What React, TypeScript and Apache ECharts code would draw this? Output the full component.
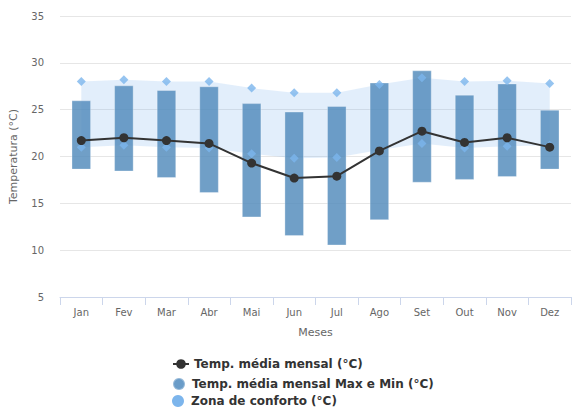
import React, { useEffect, useRef } from "react";
import * as echarts from "echarts";

const months = ["Jan", "Fev", "Mar", "Abr", "Mai", "Jun", "Jul", "Ago", "Set", "Out", "Nov", "Dez"];
const meanTemp = [21.7, 22.0, 21.7, 21.4, 19.3, 17.7, 17.9, 20.6, 22.7, 21.5, 22.0, 21.0];
const maxTemp = [26.0, 27.6, 27.1, 27.5, 25.7, 24.8, 25.4, 27.9, 29.2, 26.6, 27.8, 25.0];
const minTemp = [18.6, 18.4, 17.7, 16.1, 13.5, 11.5, 10.5, 13.2, 17.2, 17.5, 17.8, 18.6];
const comfortUpper = [28.0, 28.2, 28.0, 28.0, 27.3, 26.8, 26.8, 27.7, 28.4, 28.0, 28.1, 27.8];
const comfortLower = [21.0, 21.2, 21.0, 20.9, 20.3, 19.8, 19.9, 20.7, 21.4, 20.9, 21.1, 21.2];

const NAME_LINE = "Temp. média mensal (°C)";
const NAME_BAR = "Temp. média mensal Max e Min (°C)";
const NAME_ZONE = "Zona de conforto (°C)";

const FONT = "DejaVu Sans";
const BAR_COLOR = "rgba(80,138,187,0.82)";

const legendBase = {
  orient: "vertical",
  left: 172,
  padding: 0,
  itemWidth: 16,
  itemHeight: 12,
  textStyle: { fontFamily: FONT, fontWeight: "bold", fontSize: 12, color: "#333" },
};

export default function App() {
  const ref = useRef<HTMLDivElement>(null);
  useEffect(() => {
    if (!ref.current) return;
    const chart = echarts.init(ref.current, null, { renderer: "svg" });
    chart.setOption({
      animation: false,
      textStyle: { fontFamily: FONT },
      grid: { left: 59, right: 2, top: 16, bottom: 110, containLabel: false },
      legend: [
        { ...legendBase, top: 358, data: [{ name: NAME_LINE }] },
        { ...legendBase, top: 377, data: [{ name: NAME_BAR, icon: "circle", itemStyle: { color: "#6a9cc8" } }] },
        { ...legendBase, top: 395, data: [{ name: NAME_ZONE, icon: "circle", itemStyle: { color: "#7cb5ec" } }] },
      ],
      xAxis: {
        type: "category",
        data: months,
        name: "Meses",
        nameLocation: "middle",
        nameGap: 30,
        nameTextStyle: { color: "#666", fontSize: 11, fontFamily: FONT },
        axisLine: { lineStyle: { color: "#ccd6eb" } },
        axisTick: { show: true, alignWithLabel: false, length: 8, lineStyle: { color: "#ccd6eb" } },
        axisLabel: { color: "#666", fontSize: 10, margin: 10, fontFamily: FONT },
        splitLine: { show: false },
      },
      yAxis: {
        type: "value",
        min: 5,
        max: 35,
        interval: 5,
        name: "Temperatura (°C)",
        nameLocation: "middle",
        nameGap: 41,
        nameTextStyle: { color: "#666", fontSize: 11, fontFamily: FONT },
        axisLine: { show: false },
        axisTick: { show: false },
        axisLabel: { color: "#666", fontSize: 10, margin: 16, fontFamily: FONT },
        splitLine: { lineStyle: { color: "#e6e6e6" } },
      },
      series: [
        {
          name: NAME_ZONE,
          type: "line",
          stack: "zone",
          data: comfortLower,
          showSymbol: false,
          symbol: "none",
          lineStyle: { width: 0 },
          z: 1,
          silent: true,
        },
        {
          name: NAME_ZONE,
          type: "line",
          stack: "zone",
          data: comfortUpper.map((u, i) => +(u - comfortLower[i]).toFixed(2)),
          showSymbol: false,
          symbol: "none",
          lineStyle: { width: 0 },
          areaStyle: { color: "rgba(124,181,236,0.32)" },
          itemStyle: { color: "#7cb5ec" },
          z: 1,
          silent: true,
        },
        {
          name: "base",
          type: "bar",
          stack: "bars",
          data: minTemp,
          itemStyle: { color: "transparent" },
          barWidth: "46%",
          z: 2,
          silent: true,
        },
        {
          name: NAME_BAR,
          type: "bar",
          stack: "bars",
          data: maxTemp.map((m, i) => +(m - minTemp[i]).toFixed(2)),
          itemStyle: { color: BAR_COLOR, borderColor: "rgba(255,255,255,0.3)", borderWidth: 1 },
          barWidth: "46%",
          z: 2,
        },
        {
          name: NAME_ZONE,
          type: "scatter",
          data: comfortUpper,
          symbol: "diamond",
          symbolSize: 9,
          itemStyle: { color: "#7cb5ec" },
          z: 3,
        },
        {
          name: NAME_ZONE,
          type: "scatter",
          data: comfortLower,
          symbol: "diamond",
          symbolSize: 9,
          itemStyle: { color: "#7cb5ec" },
          z: 3,
        },
        {
          name: NAME_LINE,
          type: "line",
          data: meanTemp,
          symbol: "circle",
          symbolSize: 9,
          lineStyle: { color: "#333", width: 2 },
          itemStyle: { color: "#333" },
          z: 4,
        },
      ],
    });
    return () => chart.dispose();
  }, []);
  return (
    <div
      ref={ref}
      style={{ position: "absolute", left: 0, top: 0, width: 573, height: 407 }}
    />
  );
}
